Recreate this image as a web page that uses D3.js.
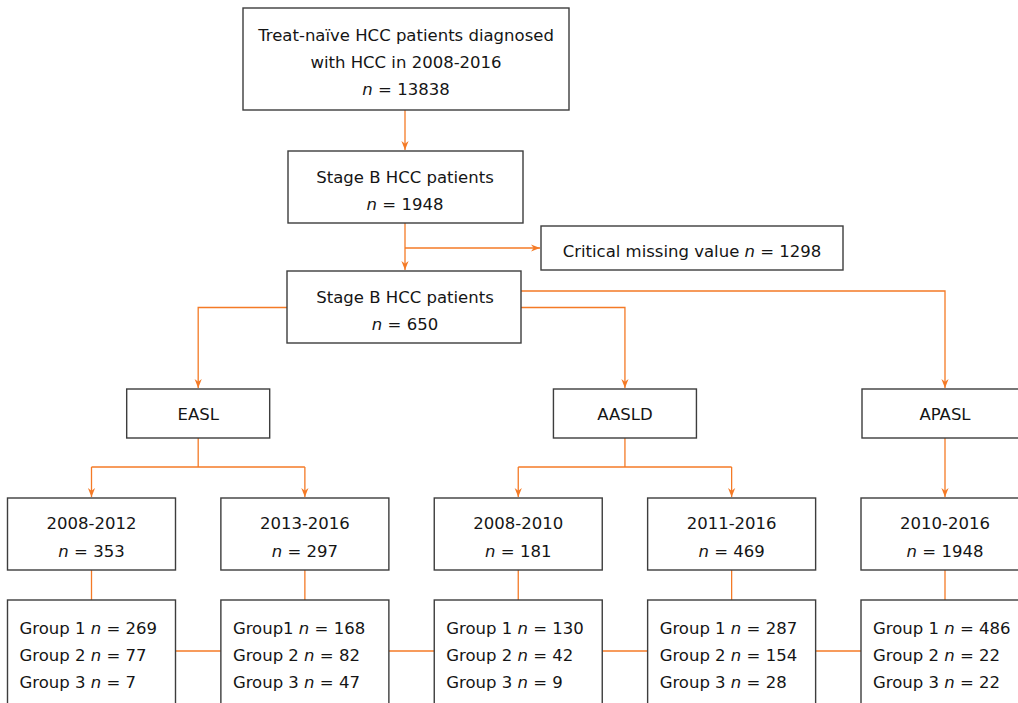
<!DOCTYPE html>
<html>
<head>
<meta charset="utf-8">
<script src="https://cdn.jsdelivr.net/npm/d3@7/dist/d3.min.js"></script>
<style>
  body { margin: 0; background: #fff; }
  svg { display: block; }
  text { font-family: "DejaVu Sans", Verdana, sans-serif; font-size: 16.5px; fill: #151515; }
</style>
</head>
<body>
<svg id="chart"></svg>
<script>
// data
const topLabel = ['Treat-naïve HCC patients diagnosed', 'with HCC in 2008-2016'];
const topN = 13838;
const stageLabel = 'Stage B HCC patients';
const stageN = [1948, 650];
const missingLabel = 'Critical missing value';
const missingN = 1298;
const guidelines = ['EASL', 'AASLD', 'APASL'];
const guideChildren = [[0, 1], [2, 3], [4]];
const periods = ['2008-2012', '2013-2016', '2008-2010', '2011-2016', '2010-2016'];
const periodN = [353, 297, 181, 469, 1948];
const groupNames = [
  ['Group 1', 'Group 2', 'Group 3'],
  ['Group1', 'Group 2', 'Group 3'],
  ['Group 1', 'Group 2', 'Group 3'],
  ['Group 1', 'Group 2', 'Group 3'],
  ['Group 1', 'Group 2', 'Group 3']
];
const group1N = [269, 168, 130, 287, 486];
const group2N = [77, 82, 42, 154, 22];
const group3N = [7, 47, 9, 28, 22];

const W = 1018, H = 703;
const orange = '#f47a26';
const boxStroke = '#3d3d3d';

const svg = d3.select('#chart').attr('width', W).attr('height', H);

svg.append('defs').append('marker')
  .attr('id', 'arr')
  .attr('viewBox', '0 0 10 10')
  .attr('refX', 10).attr('refY', 5)
  .attr('markerWidth', 9).attr('markerHeight', 9)
  .attr('markerUnits', 'userSpaceOnUse')
  .attr('orient', 'auto')
  .append('path')
  .attr('d', 'M0,1 L10,5 L0,9 L3,5 Z')
  .attr('fill', orange);

const links = svg.append('g').attr('fill', 'none').attr('stroke', orange).attr('stroke-width', 1.3);
const boxes = svg.append('g');

// column positions
const colX = d3.scalePoint().domain(d3.range(periods.length)).range([91.5, 945]);
const guideX = guideChildren.map(c => d3.mean(c, i => colX(i)));
const mainX = 405;

// segments of a line: plain text + italic n
const nSeg = (pre, n) => [{ t: pre, i: false }, { t: 'n', i: true }, { t: ' = ' + n, i: false }];

function box(x0, y0, x1, y1) {
  boxes.append('rect')
    .attr('x', x0).attr('y', y0)
    .attr('width', x1 - x0).attr('height', y1 - y0)
    .attr('fill', '#fff')
    .attr('stroke', boxStroke)
    .attr('stroke-width', 1.4);
}

function label(lines, x, ys, anchor = 'middle') {
  lines.forEach((segs, k) => {
    const t = boxes.append('text')
      .attr('x', x).attr('y', ys[k])
      .attr('dy', '0.36em')
      .attr('text-anchor', anchor);
    segs.forEach(s => {
      t.append('tspan')
        .style('font-style', s.i ? 'italic' : 'normal')
        .text(s.t);
    });
  });
}

function path(pts, arrow) {
  const p = links.append('path').attr('d', d3.line()(pts));
  if (arrow) p.attr('marker-end', 'url(#arr)');
}

// top box
box(243, 8, 569, 110);
label([[{ t: topLabel[0] }], [{ t: topLabel[1] }], nSeg('', topN)], 406, [35, 62, 89]);
path([[mainX, 110], [mainX, 150]], true);

// stage B (all)
box(288, 151, 523, 223);
label([[{ t: stageLabel }], nSeg('', stageN[0])], mainX, [177, 204]);
path([[mainX, 223], [mainX, 270]], true);
path([[mainX, 248], [540, 248]], true);

// missing
box(541, 226, 843, 270);
label([nSeg(missingLabel + ' ', missingN)], 692, [251.5]);

// stage B (complete)
box(287, 271, 521, 343);
label([[{ t: stageLabel }], nSeg('', stageN[1])], mainX, [297, 324]);
path([[287, 307.5], [guideX[0], 307.5], [guideX[0], 388]], true);
path([[521, 307.5], [guideX[1], 307.5], [guideX[1], 388]], true);
path([[521, 291], [guideX[2], 291], [guideX[2], 388]], true);

// guideline boxes
guidelines.forEach((g, j) => {
  const gx = guideX[j];
  const gw = guideChildren[j].length > 1 ? 143 : 166;
  box(gx - gw / 2, 389, gx + gw / 2, 438);
  label([[{ t: g }]], gx, [414]);
  const kids = guideChildren[j];
  if (kids.length > 1) {
    path([[gx, 438], [gx, 467]], false);
    path([[colX(kids[0]), 467], [colX(kids[kids.length - 1]), 467]], false);
    kids.forEach(i => path([[colX(i), 467], [colX(i), 497]], true));
  } else {
    path([[gx, 438], [gx, 497]], true);
  }
});

// period + group boxes
const colW = 168;
periods.forEach((p, i) => {
  const cx = colX(i);
  box(cx - colW / 2, 498, cx + colW / 2, 570);
  label([[{ t: p }], nSeg('', periodN[i])], cx, [523, 551]);
  path([[cx, 570], [cx, 600]], false);
  box(cx - colW / 2, 600, cx + colW / 2, 725);
  const names = groupNames[i];
  label([
    nSeg(names[0] + ' ', group1N[i]),
    nSeg(names[1] + ' ', group2N[i]),
    nSeg(names[2] + ' ', group3N[i])
  ], cx - colW / 2 + 12, [628, 655, 682], 'start');
  if (i < periods.length - 1) {
    path([[cx + colW / 2, 651], [colX(i + 1) - colW / 2, 651]], false);
  }
});
</script>
</body>
</html>
